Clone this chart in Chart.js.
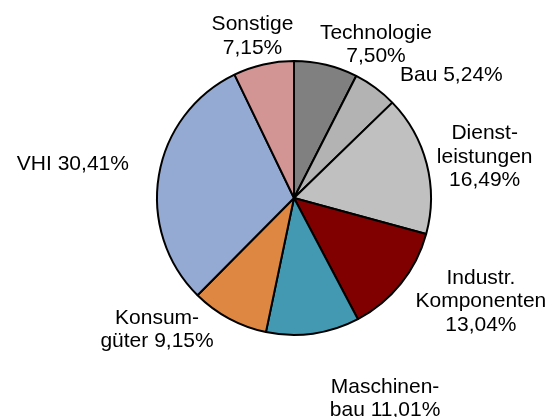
<!DOCTYPE html>
<html>
<head>
<meta charset="utf-8">
<script src="https://cdn.jsdelivr.net/npm/chart.js@4/dist/chart.umd.min.js"></script>
<style>
  html, body { margin: 0; padding: 0; background: #fff; }
  #wrap { position: relative; width: 559px; height: 417px; }
</style>
</head>
<body>
<div id="wrap"><canvas id="c" width="559" height="417"></canvas></div>
<script>
// ---- data ----
const categories = ["Technologie", "Bau", "Dienst-\nleistungen", "Industr.\nKomponenten", "Maschinen-\nbau", "Konsum-\ngüter", "VHI", "Sonstige"];
const shares = [7.50, 5.24, 16.49, 13.04, 11.01, 9.15, 30.41, 7.15];
const valueSeparator = ["\n", " ", "\n", "\n", " ", " ", " ", "\n"];

// ---- styles ----
const sliceColors = ["#808080", "#b3b3b3", "#c0c0c0", "#800000", "#4299b1", "#dd8743", "#95aad2", "#d39494"];
// label nudges (px) relative to the slice's outer edge at its mid-angle
const labelNudge = [[50, -20], [76, -13], [58, -7], [80, 18], [72, 65], [-72, 11], [-86, -11], [-11, -28]];

const fmt = v => v.toFixed(2).replace('.', ',') + '%';
const labelTexts = categories.map((c, i) => c + valueSeparator[i] + fmt(shares[i]));

const labelPlugin = {
  id: 'pieLabels',
  afterDatasetsDraw(chart) {
    const ctx = chart.ctx;
    const meta = chart.getDatasetMeta(0);
    ctx.save();
    ctx.font = '21px "Liberation Sans", Arial, sans-serif';
    ctx.fillStyle = '#000';
    ctx.textAlign = 'center';
    ctx.textBaseline = 'middle';
    const lh = 23.5;
    meta.data.forEach((arc, i) => {
      const p = arc.getProps(['x', 'y', 'startAngle', 'endAngle', 'outerRadius'], true);
      const mid = (p.startAngle + p.endAngle) / 2;
      const ex = p.x + Math.cos(mid) * p.outerRadius + labelNudge[i][0];
      const ey = p.y + Math.sin(mid) * p.outerRadius + labelNudge[i][1];
      const lines = labelTexts[i].split('\n');
      const y0 = ey - (lines.length - 1) * lh / 2;
      lines.forEach((ln, k) => ctx.fillText(ln, ex, y0 + k * lh));
    });
    ctx.restore();
  }
};

new Chart(document.getElementById('c'), {
  type: 'pie',
  data: {
    labels: labelTexts,
    datasets: [{
      data: shares,
      backgroundColor: sliceColors,
      borderColor: '#000',
      borderWidth: 2,
      radius: 137
    }]
  },
  options: {
    responsive: false,
    animation: false,
    layout: { padding: { left: 156, right: 127, top: 60, bottom: 81 } },
    plugins: { legend: { display: false }, tooltip: { enabled: false } }
  },
  plugins: [labelPlugin]
});
</script>
</body>
</html>
